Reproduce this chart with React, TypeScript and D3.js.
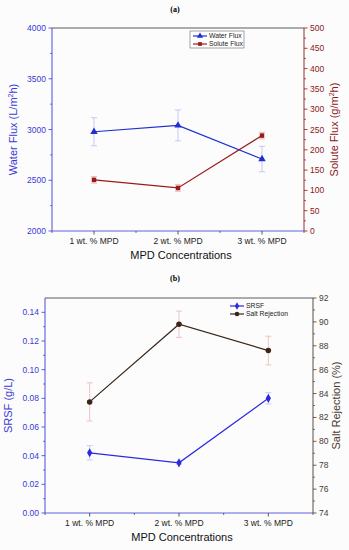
import React from "react";
import * as d3 from "d3";

const categories = ["1 wt. % MPD", "2 wt. % MPD", "3 wt. % MPD"];

// panel (a)
const waterFlux = [2978, 3040, 2709];
const waterFluxErr = [138, 152, 125];
const soluteFlux = [126, 106, 235];
const soluteFluxErr = [8, 8, 8];
const waterTicks = [2000, 2500, 3000, 3500, 4000];
const soluteTicks = [0, 50, 100, 150, 200, 250, 300, 350, 400, 450, 500];

// panel (b)
const srsf = [0.042, 0.035, 0.080];
const srsfErr = [0.005, 0.001, 0.004];
const saltRejection = [83.3, 89.8, 87.6];
const saltRejectionErr = [1.6, 1.1, 1.2];
const srsfTicks = [0, 0.02, 0.04, 0.06, 0.08, 0.1, 0.12, 0.14];
const rejTicks = [74, 76, 78, 80, 82, 84, 86, 88, 90, 92];

const font = "Liberation Sans, Arial, sans-serif";

type Series = {
  name: string;
  values: number[];
  errs: number[];
  color: string;
  errColor: string;
  symbol: d3.SymbolType;
  size: number;
};

type PanelProps = {
  label: string;
  labelY: number;
  left: number;
  right: number;
  top: number;
  bottom: number;
  leftDomain: [number, number];
  rightDomain: [number, number];
  leftTicks: number[];
  rightTicks: number[];
  leftFmt: (v: number) => string;
  leftColor: string;
  rightColor: string;
  leftTitle: React.ReactNode;
  rightTitle: React.ReactNode;
  leftTitleX: number;
  rightTitleX: number;
  s1: Series;
  s2: Series;
  legendX: number;
  legendY: number;
  legendW: number;
  legendBox: boolean;
};

const Panel = (p: PanelProps) => {
  const x = d3.scalePoint<string>().domain(categories).range([p.left, p.right]).padding(0.5);
  const yL = d3.scaleLinear().domain(p.leftDomain).range([p.bottom, p.top]);
  const yR = d3.scaleLinear().domain(p.rightDomain).range([p.bottom, p.top]);
  const step = x.step();
  const midY = (p.top + p.bottom) / 2;
  const midX = (p.left + p.right) / 2;

  const minorL = p.leftTicks.slice(0, -1).map((t, i) => (t + p.leftTicks[i + 1]) / 2);
  const minorR = p.rightTicks.slice(0, -1).map((t, i) => (t + p.rightTicks[i + 1]) / 2);
  const minorX = [p.left, ...categories.slice(0, -1).map((c) => (x(c) as number) + step / 2), p.right];

  const drawSeries = (s: Series, y: d3.ScaleLinear<number, number>) => {
    const line = d3
      .line<number>()
      .x((_, i) => x(categories[i]) as number)
      .y((d) => y(d));
    const sym = d3.symbol().type(s.symbol).size(s.size);
    return (
      <g>
        {s.values.map((v, i) => {
          const cx = x(categories[i]) as number;
          const y1 = y(v + s.errs[i]);
          const y2 = y(v - s.errs[i]);
          return (
            <g key={"e" + i} stroke={s.errColor} strokeWidth={0.8}>
              <line x1={cx} x2={cx} y1={y1} y2={y2} />
              <line x1={cx - 3} x2={cx + 3} y1={y1} y2={y1} />
              <line x1={cx - 3} x2={cx + 3} y1={y2} y2={y2} />
            </g>
          );
        })}
        <path d={line(s.values) || ""} fill="none" stroke={s.color} strokeWidth={1.2} />
        {s.values.map((v, i) => (
          <path
            key={"m" + i}
            d={sym() || ""}
            transform={`translate(${x(categories[i])},${y(v)})`}
            fill={s.color}
          />
        ))}
      </g>
    );
  };

  const legendItem = (s: Series, i: number) => {
    const ly = p.legendY + 5 + i * 8;
    const sym = d3.symbol().type(s.symbol).size(s.size * 0.7);
    return (
      <g key={s.name}>
        <line x1={p.legendX + 3} x2={p.legendX + 17} y1={ly} y2={ly} stroke={s.color} strokeWidth={1.2} />
        <path d={sym() || ""} transform={`translate(${p.legendX + 10},${ly})`} fill={s.color} />
        <text x={p.legendX + 19} y={ly + 2.3} fontSize={6.8} fontFamily={font} fill="#222">
          {s.name}
        </text>
      </g>
    );
  };

  return (
    <g>
      <text x={175} y={p.labelY} textAnchor="middle" fontSize={8} fontWeight="bold" fontFamily="Liberation Serif, serif">
        {p.label}
      </text>
      {/* frame */}
      <line x1={p.left} x2={p.right} y1={p.top} y2={p.top} stroke="#333" strokeWidth={0.8} />
      <line x1={p.left} x2={p.right} y1={p.bottom} y2={p.bottom} stroke={p.leftColor} strokeWidth={0.8} />
      <line x1={p.left} x2={p.left} y1={p.top} y2={p.bottom} stroke={p.leftColor} strokeWidth={0.9} />
      <line x1={p.right} x2={p.right} y1={p.top} y2={p.bottom} stroke={p.rightColor} strokeWidth={0.9} />

      {/* left axis */}
      {p.leftTicks.map((t) => (
        <g key={"l" + t}>
          <line x1={p.left - 3.5} x2={p.left} y1={yL(t)} y2={yL(t)} stroke={p.leftColor} strokeWidth={0.8} />
          <text x={p.left - 6} y={yL(t) + 3} textAnchor="end" fontSize={8.5} fontFamily={font} fill={p.leftColor}>
            {p.leftFmt(t)}
          </text>
        </g>
      ))}
      {minorL.map((t) => (
        <line key={"lm" + t} x1={p.left - 2} x2={p.left} y1={yL(t)} y2={yL(t)} stroke={p.leftColor} strokeWidth={0.7} />
      ))}

      {/* right axis */}
      {p.rightTicks.map((t) => (
        <g key={"r" + t}>
          <line x1={p.right} x2={p.right + 3.5} y1={yR(t)} y2={yR(t)} stroke={p.rightColor} strokeWidth={0.8} />
          <text x={p.right + 6} y={yR(t) + 3} textAnchor="start" fontSize={8.5} fontFamily={font} fill={p.rightColor}>
            {t}
          </text>
        </g>
      ))}
      {minorR.map((t) => (
        <line key={"rm" + t} x1={p.right} x2={p.right + 2} y1={yR(t)} y2={yR(t)} stroke={p.rightColor} strokeWidth={0.7} />
      ))}

      {/* bottom axis */}
      {categories.map((c) => (
        <g key={c}>
          <line x1={x(c)} x2={x(c)} y1={p.bottom} y2={p.bottom + 3.5} stroke="#333" strokeWidth={0.8} />
          <text x={x(c)} y={p.bottom + 13} textAnchor="middle" fontSize={8.5} fontFamily={font} fill="#222">
            {c}
          </text>
        </g>
      ))}
      {minorX.map((m, i) => (
        <line key={"xm" + i} x1={m} x2={m} y1={p.bottom} y2={p.bottom + 2} stroke="#333" strokeWidth={0.7} />
      ))}
      <text x={midX + 3} y={p.bottom + 28} textAnchor="middle" fontSize={11} fontFamily={font} fill="#111">
        MPD Concentrations
      </text>

      {/* axis titles */}
      <text
        transform={`translate(${p.leftTitleX},${midY}) rotate(-90)`}
        textAnchor="middle"
        fontSize={11}
        fontFamily={font}
        fill={p.leftColor}
      >
        {p.leftTitle}
      </text>
      <text
        transform={`translate(${p.rightTitleX},${midY}) rotate(-90)`}
        textAnchor="middle"
        fontSize={11}
        fontFamily={font}
        fill={p.rightColor}
      >
        {p.rightTitle}
      </text>

      {drawSeries(p.s1, yL)}
      {drawSeries(p.s2, yR)}

      {/* legend */}
      {p.legendBox && (
        <rect x={p.legendX} y={p.legendY} width={p.legendW} height={17} fill="white" stroke="#666" strokeWidth={0.6} />
      )}
      {legendItem(p.s1, 0)}
      {legendItem(p.s2, 1)}
    </g>
  );
};

const App = () => {
  const blue = "#3a3ad8";
  const red = "#8b1a1a";
  const brown = "#4a3a30";
  return (
    <svg width={349} height={550} style={{ position: "absolute", left: 0, top: 0, background: "#fcfcfc" }}>
      <Panel
        label="(a)"
        labelY={12}
        left={52}
        right={304}
        top={28}
        bottom={231}
        leftDomain={[2000, 4000]}
        rightDomain={[0, 500]}
        leftTicks={waterTicks}
        rightTicks={soluteTicks}
        leftFmt={(v) => String(v)}
        leftColor={blue}
        rightColor={red}
        leftTitle={
          <>
            Water Flux (L/m<tspan dy={-4} fontSize={7}>2</tspan>
            <tspan dy={4}>h)</tspan>
          </>
        }
        rightTitle={
          <>
            Solute Flux (g/m<tspan dy={-4} fontSize={7}>2</tspan>
            <tspan dy={4}>h)</tspan>
          </>
        }
        leftTitleX={17}
        rightTitleX={338}
        s1={{
          name: "Water Flux",
          values: waterFlux,
          errs: waterFluxErr,
          color: "#1f2fd0",
          errColor: "#b8c0ee",
          symbol: d3.symbolTriangle,
          size: 24,
        }}
        s2={{
          name: "Solute Flux",
          values: soluteFlux,
          errs: soluteFluxErr,
          color: "#9a1a1a",
          errColor: "#e0a8a8",
          symbol: d3.symbolSquare,
          size: 20,
        }}
        legendX={190}
        legendY={31}
        legendW={54}
        legendBox={true}
      />
      <Panel
        label="(b)"
        labelY={281}
        left={45}
        right={313}
        top={298}
        bottom={513}
        leftDomain={[0, 0.15]}
        rightDomain={[74, 92]}
        leftTicks={srsfTicks}
        rightTicks={rejTicks}
        leftFmt={(v) => v.toFixed(2)}
        leftColor={blue}
        rightColor={brown}
        leftTitle="SRSF (g/L)"
        rightTitle="Salt Rejection (%)"
        leftTitleX={12}
        rightTitleX={340}
        s1={{
          name: "SRSF",
          values: srsf,
          errs: srsfErr,
          color: "#2a2ae0",
          errColor: "#c0c4ee",
          symbol: d3.symbolDiamond,
          size: 24,
        }}
        s2={{
          name: "Salt Rejection",
          values: saltRejection,
          errs: saltRejectionErr,
          color: "#3a2518",
          errColor: "#e8b8b8",
          symbol: d3.symbolCircle,
          size: 24,
        }}
        legendX={227}
        legendY={301}
        legendW={66}
        legendBox={false}
      />
    </svg>
  );
};

export default App;
